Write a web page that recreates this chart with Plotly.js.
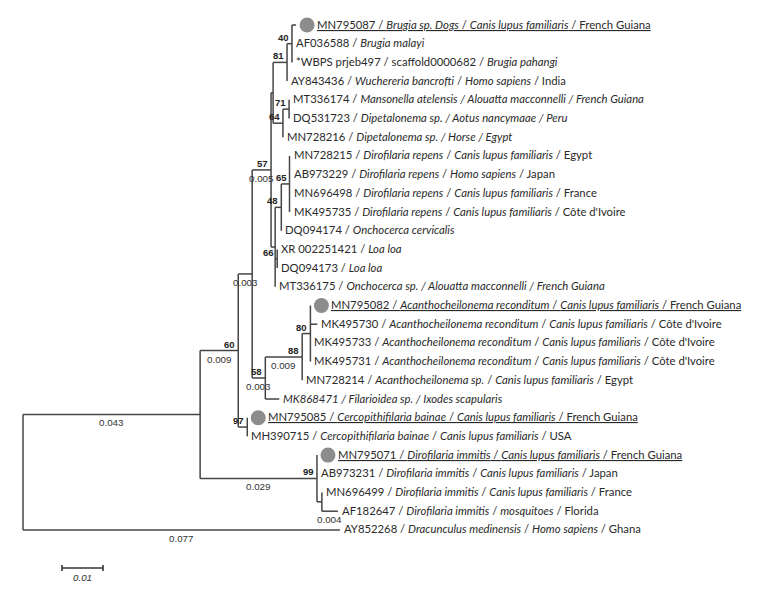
<!DOCTYPE html>
<html><head><meta charset="utf-8">
<script src="https://cdn.plot.ly/plotly-3.0.1.min.js"></script>
<style>body{margin:0;background:#fff}#chart{width:760px;height:592px}</style>
</head><body><div id="chart"></div>
<script>
// ---- tree data: node name, parent, branch length (substitutions/site) ----
const nodeNames = ["root","N1","AY852268","N60","NDim","N003","NCerc","N57","N58","NC","NL","NB","ND","NA",
  "MN795087","AF036588","WBPS","AY843436","NE","MT336174","DQ531723","MN728216","N48","N66","MT336175","N65",
  "DQ094174","MN728215","AB973229","MN696498","MK495735","XR002251421","DQ094173","N88","MK868471","N80",
  "MN728214","MN795082","MK495730","MK495733","MK495731","MN795085","MH390715","MN795071","AB973231","NDim2",
  "MN696499","AF182647"];
const nodeParents = [null,"root","root","N1","N1","N60","N60","N003","N003","N57","N57","NC","NC","NB",
  "NA","NA","NA","NB","ND","NE","NE","ND","NL","NL","NL","N48",
  "N48","N65","N65","N65","N65","N66","N66","N58","N58","N88",
  "N88","N80","N80","N80","N80","NCerc","NCerc","NDim","NDim","NDim",
  "NDim2","NDim2"];
const branchLengths = [0,0.0432,0.0773,0.0093,0.0285,0.0034,0.0022,0.0046,0.0032,0.0005,0.0010,0.0034,0.0024,0.0012,
  0.0010,0,0,0,0.0015,0,0,0,0.0015,0.0005,0,0.0020,
  0,0,0,0,0,0,0,0.0090,0.0034,0.0020,
  0,0,0.0017,0,0,0,0,0,0,0.0012,
  0,0.0039];

// leaf labels, in tree (top-to-bottom) order
const leafLabels = [
  "<u>MN795087 / <i>Brugia sp. Dogs</i> / <i>Canis lupus familiaris</i> / French Guiana</u>",
  "AF036588 / <i>Brugia malayi</i>",
  "*WBPS prjeb497 / scaffold0000682 / <i>Brugia pahangi</i>",
  "AY843436 / <i>Wuchereria bancrofti</i> / <i>Homo sapiens</i> / India",
  "MT336174 / <i>Mansonella atelensis / Alouatta macconnelli / French Guiana</i>",
  "DQ531723 / <i>Dipetalonema sp. / Aotus nancymaae / Peru</i>",
  "MN728216 / <i>Dipetalonema sp. / Horse / Egypt</i>",
  "MN728215 / <i>Dirofilaria repens</i> / <i>Canis lupus familiaris</i> / Egypt",
  "AB973229 / <i>Dirofilaria repens</i> / <i>Homo sapiens</i> / Japan",
  "MN696498 / <i>Dirofilaria repens</i> / <i>Canis lupus familiaris</i> / France",
  "MK495735 / <i>Dirofilaria repens</i> / <i>Canis lupus familiaris</i> / Côte d'Ivoire",
  "DQ094174 / <i>Onchocerca cervicalis</i>",
  "XR 002251421 / <i>Loa loa</i>",
  "DQ094173 / <i>Loa loa</i>",
  "MT336175 / <i>Onchocerca sp. / Alouatta macconnelli / French Guiana</i>",
  "<u>MN795082 / <i>Acanthocheilonema reconditum</i> / <i>Canis lupus familiaris</i> / French Guiana</u>",
  "MK495730 / <i>Acanthocheilonema reconditum</i> / <i>Canis lupus familiaris</i> / Côte d'Ivoire",
  "MK495733 / <i>Acanthocheilonema reconditum</i> / <i>Canis lupus familiaris</i> / Côte d'Ivoire",
  "MK495731 / <i>Acanthocheilonema reconditum</i> / <i>Canis lupus familiaris</i> / Côte d'Ivoire",
  "MN728214 / <i>Acanthocheilonema sp.</i> / <i>Canis lupus familiaris</i> / Egypt",
  "<i>MK868471 / Filarioidea sp. / Ixodes scapularis</i>",
  "<u>MN795085 / <i>Cercopithifilaria bainae</i> / <i>Canis lupus familiaris</i> / French Guiana</u>",
  "MH390715 / <i>Cercopithifilaria bainae</i> / <i>Canis lupus familiaris</i> / USA",
  "<u>MN795071 / <i>Dirofilaria immitis</i> / <i>Canis lupus familiaris</i> / French Guiana</u>",
  "AB973231 / <i>Dirofilaria immitis</i> / <i>Canis lupus familiaris</i> / Japan",
  "MN696499 / <i>Dirofilaria immitis</i> / <i>Canis lupus familiaris</i> / France",
  "AF182647 / <i>Dirofilaria immitis</i> / <i>mosquitoes</i> / Florida",
  "AY852268 / <i>Dracunculus medinensis</i> / <i>Homo sapiens</i> / Ghana"
];
const markedLeaves = ["MN795087","MN795082","MN795085","MN795071"];

// bootstrap support values
const bootNodes  = ["NA","NB","NE","ND","N57","N65","N48","N66","N60","N80","N88","N58","NCerc","NDim"];
const bootValues = ["40","81","71","64","57","65","48","66","60","80","88","58","97","99"];

// branch length labels
const lenNodes  = ["N57","N003","N60","N88","N58","N1","AY852268","NDim","AF182647"];
const lenTexts  = ["0.005","0.003","0.009","0.009","0.003","0.043","0.077","0.029","0.004"];
const scaleBarLength = 0.01;

// ---- layout computation ----
const PXU = 4100;            // pixels per unit distance
const byName = {};
nodeNames.forEach((n,i)=>{ byName[n] = {name:n, parent:nodeParents[i], len:branchLengths[i], children:[]}; });
nodeNames.forEach((n,i)=>{ if (nodeParents[i]) byName[nodeParents[i]].children.push(byName[n]); });
const leaves = [];
(function place(node, depth){
  node.x = depth + node.len;
  if (node.children.length === 0) { node.y = leaves.length; leaves.push(node); return; }
  node.children.forEach(c => place(c, node.x));
  node.y = (node.children[0].y + node.children[node.children.length-1].y) / 2;
})(byName["root"], 0);

const lx = [], ly = [];
nodeNames.forEach(n => {
  const nd = byName[n];
  if (nd.parent) { const p = byName[nd.parent]; lx.push(p.x, nd.x, null); ly.push(nd.y, nd.y, null); }
  if (nd.children.length) {
    lx.push(nd.x, nd.x, null);
    ly.push(nd.children[0].y, nd.children[nd.children.length-1].y, null);
  }
});

const YPX = 18.7, Y0 = 25;
const yRange = [(592 - Y0) / YPX, -Y0 / YPX];
const xRange = [-23 / PXU, (760 - 23) / PXU];

const traces = [{
  type:'scatter', mode:'lines', x:lx, y:ly, hoverinfo:'skip',
  line:{color:'#454545', width:1.5}
}];

// circles
const cx = [], cy = [];
markedLeaves.forEach(n => { const nd = byName[n]; cx.push(nd.x + 11/PXU); cy.push(nd.y); });
traces.push({type:'scatter', mode:'markers', x:cx, y:cy, hoverinfo:'skip',
  marker:{size:15, color:'#8c8c8c', line:{width:0}}});

// scale bar
const sbx0 = (62-23)/PXU, sby = (568 - Y0)/YPX, tk = 3/YPX;
traces.push({type:'scatter', mode:'lines', hoverinfo:'skip', line:{color:'#333', width:1.6},
  x:[sbx0, sbx0+scaleBarLength, null, sbx0, sbx0, null, sbx0+scaleBarLength, sbx0+scaleBarLength],
  y:[sby, sby, null, sby-tk, sby+tk, null, sby-tk, sby+tk]});

const ann = [];
const textFont = {family:'Lato, "Open Sans", sans-serif', size:11.3, color:'#2a2a2a'};
leaves.forEach((nd,i) => {
  const marked = markedLeaves.indexOf(nd.name) >= 0;
  ann.push({x:nd.x, y:nd.y, xref:'x', yref:'y', text:leafLabels[i], showarrow:false,
    xanchor:'left', yanchor:'middle', xshift: marked ? 19 : 2, yshift:1, font:textFont});
});
const bootFont = {family:'"Liberation Sans", Arial, sans-serif', size:9.5, color:'#222'};
bootNodes.forEach((n,i) => {
  const nd = byName[n];
  ann.push({x:nd.x, y:nd.y, xref:'x', yref:'y', text:'<b>'+bootValues[i]+'</b>', showarrow:false,
    xanchor:'right', yanchor:'bottom', xshift:-1, yshift:-1, font:bootFont});
});
const lenFont = {family:'"Liberation Sans", Arial, sans-serif', size:9.8, color:'#333'};
lenNodes.forEach((n,i) => {
  const nd = byName[n], p = byName[nd.parent];
  ann.push({x:(nd.x + p.x)/2, y:nd.y, xref:'x', yref:'y', text:lenTexts[i], showarrow:false,
    xanchor:'center', yanchor:'top', yshift:-1, font:lenFont});
});
ann.push({x:sbx0 + scaleBarLength/2, y:sby, xref:'x', yref:'y', text:'<i>'+scaleBarLength.toFixed(2)+'</i>',
  showarrow:false, xanchor:'center', yanchor:'top', yshift:-2, font:lenFont});

const layout = {
  width:760, height:592, margin:{l:0,r:0,t:0,b:0},
  paper_bgcolor:'#fff', plot_bgcolor:'#fff', showlegend:false,
  xaxis:{range:xRange, visible:false, fixedrange:true},
  yaxis:{range:yRange, visible:false, fixedrange:true},
  annotations:ann
};
Plotly.newPlot('chart', traces, layout, {staticPlot:true, displayModeBar:false});
</script></body></html>
